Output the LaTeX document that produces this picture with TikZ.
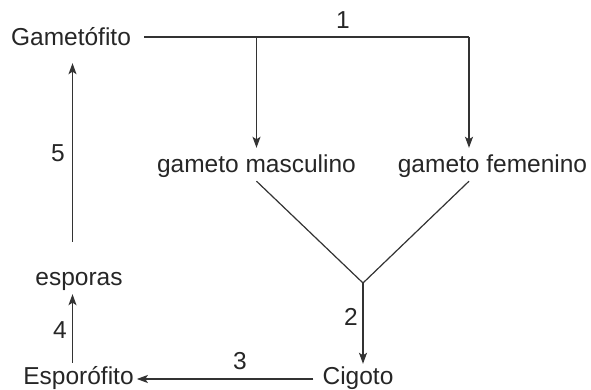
\documentclass[tikz,border=0pt]{standalone}
\usepackage{fontspec}
\setmainfont{Liberation Sans}
\usepackage{tikz}
\usetikzlibrary{arrows.meta,calc}
\tikzset{
  stage/.style={font=\fontsize{24.5}{28}\selectfont, text=black!85, anchor=base,
                inner sep=3pt, text height=17pt, text depth=5pt},
  num/.style={font=\fontsize{24.5}{28}\selectfont, text=black!85, inner sep=0pt},
  flow/.style={-{Stealth[length=11pt,width=8pt,inset=2.5pt]}, line width=1.2pt, draw=black!80},
  link/.style={line width=1.2pt, draw=black!80},
}

\begin{document}
\begin{tikzpicture}[x=1pt,y=1pt]
\useasboundingbox (0,0) rectangle (591,390);
\node[stage] (gam) at (71,344) {Gametófito};
\node[stage] (masc) at (256.5,217) {gameto masculino};
\node[stage] (fem) at (492.5,217) {gameto femenino};
\node[stage] (cig) at (358,5) {Cigoto};
\node[stage] (espo) at (78.5,5) {Esporófito};
\node[stage] (esp) at (79,104) {esporas};
\coordinate (split) at (469,353);
\coordinate (apex) at (363,107);
\coordinate (lft) at (72.5,0);
% numbered steps
\node[num] (n1) at (343,370) {1};
\node[num] (n2) at (351,73) {2};
\node[num] (n3) at (240,29) {3};
\node[num] (n4) at (60,60) {4};
\node[num] (n5) at (58,237) {5};
% connectors
\draw[link, shorten <=10pt] (gam.east |- split) -- (split);
\draw[flow, shorten >=5pt] (split) -- (split |- fem.north);
\draw[flow, shorten >=5pt] (masc.north |- split) -- (masc.north);
\draw[link] (masc.south) -- (apex) -- (fem.south -| split);
\draw[flow, shorten >=1pt] (apex) -- (apex |- cig.north);
\draw[flow, shorten <=6pt] (cig.west) -- (espo.east);
\draw[flow, shorten <=2pt] (espo.north -| lft) -- (esp.south -| lft);
\draw[flow, shorten <=24pt, shorten >=9pt] (esp.north -| lft) -- (gam.south -| lft);
\end{tikzpicture}
\end{document}
